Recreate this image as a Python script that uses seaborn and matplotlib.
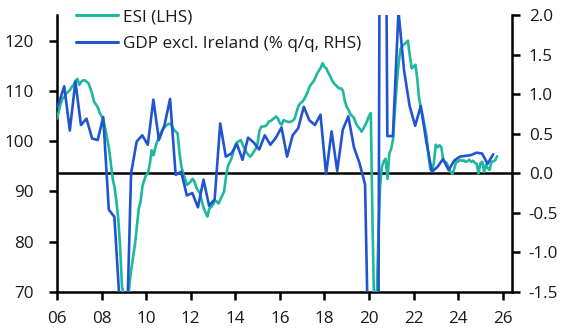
import numpy as np
import pandas as pd
import matplotlib
matplotlib.use("Agg")
import matplotlib.pyplot as plt
import matplotlib.transforms as mtransforms
from matplotlib.lines import Line2D
import seaborn as sns

# ---------------- data ----------------
# ESI (LHS), monthly, Jan 2006 - Oct 2025
esi_2006 = [104.5, 106.0, 107.5, 108.5, 108.8, 109.5, 109.8, 110.2, 110.8, 111.2, 112.0, 112.4]
esi_2007 = [111.2, 111.8, 112.1, 112.1, 111.8, 111.5, 110.5, 109.3, 107.8, 107.3, 106.7, 105.6]
esi_2008 = [105.0, 104.2, 102.5, 100.5, 98.6, 95.5, 92.5, 90.8, 88.0, 84.5, 79.0, 71.0]
esi_2009 = [69.5, 66.0, 67.5, 71.5, 74.5, 77.0, 79.5, 83.0, 86.5, 88.0, 91.0, 92.3]
esi_2010 = [93.3, 93.6, 95.5, 98.2, 97.2, 98.8, 100.0, 101.0, 101.7, 102.4, 102.8, 103.2]
esi_2011 = [103.4, 103.5, 103.0, 102.2, 101.9, 101.5, 97.5, 95.0, 93.4, 92.5, 91.3, 91.6]
esi_2012 = [92.0, 92.5, 92.0, 90.8, 90.2, 89.7, 88.0, 86.7, 85.8, 85.0, 86.6, 86.9]
esi_2013 = [87.4, 88.2, 88.0, 87.6, 88.4, 89.2, 90.0, 92.9, 95.0, 95.8, 96.6, 98.0]
esi_2014 = [99.2, 99.8, 100.0, 100.2, 99.3, 98.5, 97.8, 97.3, 96.9, 97.3, 97.9, 98.5]
esi_2015 = [99.5, 102.0, 102.9, 102.9, 103.0, 103.2, 103.9, 104.0, 104.3, 104.6, 104.9, 104.5]
esi_2016 = [103.6, 103.3, 104.2, 104.0, 103.9, 103.8, 103.9, 104.1, 104.5, 105.8, 107.0, 107.5]
esi_2017 = [107.8, 108.3, 109.0, 109.8, 110.8, 111.4, 111.8, 112.5, 113.4, 114.0, 114.6, 115.5]
esi_2018 = [114.8, 114.5, 113.7, 113.0, 112.2, 111.6, 111.2, 110.8, 110.5, 110.5, 110.0, 108.0]
esi_2019 = [106.8, 106.2, 105.4, 105.0, 104.6, 103.5, 102.9, 102.5, 101.9, 102.5, 103.2, 104.0]
esi_2020 = [105.0, 105.6, 82.0, 63.0, 66.0, 80.0, 91.0, 95.0, 96.0, 96.5, 92.5, 97.6]
esi_2021 = [98.5, 100.5, 106.5, 111.5, 115.5, 118.3, 119.0, 119.3, 119.6, 120.0, 117.0, 114.5]
esi_2022 = [114.8, 115.2, 112.5, 108.5, 106.5, 105.0, 103.0, 101.0, 97.5, 94.5, 94.0, 95.8]
esi_2023 = [99.3, 98.8, 99.2, 98.8, 96.2, 95.9, 95.6, 94.6, 93.9, 93.5, 94.6, 96.0]
esi_2024 = [95.9, 96.3, 96.1, 96.2, 95.9, 96.0, 96.3, 95.9, 96.1, 95.7, 95.5, 93.6]
esi_2025 = [95.6, 95.9, 93.9, 95.3, 94.6, 94.3, 95.9, 96.0, 96.2, 97.0]

# GDP excl. Ireland (% q/q, RHS), quarterly, 2005Q4 - 2025Q3
gdp_2005 = [0.75]
gdp_2006 = [0.88, 1.10, 0.54, 1.16]
gdp_2007 = [0.61, 0.69, 0.44, 0.42]
gdp_2008 = [0.71, -0.46, -0.55, -1.70]
gdp_2009 = [-2.60, 0.00, 0.40, 0.48]
gdp_2010 = [0.36, 0.93, 0.42, 0.61]
gdp_2011 = [0.94, -0.02, 0.02, -0.28]
gdp_2012 = [-0.25, -0.43, -0.08, -0.41]
gdp_2013 = [-0.33, 0.63, 0.21, 0.25]
gdp_2014 = [0.37, 0.17, 0.45, 0.39]
gdp_2015 = [0.30, 0.48, 0.36, 0.45]
gdp_2016 = [0.58, 0.21, 0.48, 0.57]
gdp_2017 = [0.84, 0.67, 0.61, 0.74]
gdp_2018 = [-0.01, 0.53, 0.03, 0.55]
gdp_2019 = [0.72, 0.33, 0.13, -0.14]
gdp_2020 = [-3.70, -11.50, 12.00, 0.47]
gdp_2021 = [0.47, 2.05, 1.30, 0.85]
gdp_2022 = [0.60, 0.85, 0.40, 0.02]
gdp_2023 = [0.08, 0.18, 0.04, 0.16]
gdp_2024 = [0.21, 0.22, 0.23, 0.26]
gdp_2025 = [0.25, 0.12, 0.24]

x_tick_years = list(range(2006, 2027, 2))
x_tick_labels = [f"{y % 100:02d}" for y in x_tick_years]
lhs_ticks = [70, 80, 90, 100, 110, 120]
rhs_ticks = [-1.5, -1.0, -0.5, 0.0, 0.5, 1.0, 1.5, 2.0]

esi_label = "ESI (LHS)"
gdp_label = "GDP excl. Ireland (% q/q, RHS)"

# ---------------- build frames ----------------
esi_vals = (esi_2006 + esi_2007 + esi_2008 + esi_2009 + esi_2010 + esi_2011 + esi_2012
            + esi_2013 + esi_2014 + esi_2015 + esi_2016 + esi_2017 + esi_2018 + esi_2019
            + esi_2020 + esi_2021 + esi_2022 + esi_2023 + esi_2024 + esi_2025)
esi_df = pd.DataFrame({"t": 2006 + np.arange(len(esi_vals)) / 12.0, "v": esi_vals})

gdp_vals = (gdp_2005 + gdp_2006 + gdp_2007 + gdp_2008 + gdp_2009 + gdp_2010 + gdp_2011
            + gdp_2012 + gdp_2013 + gdp_2014 + gdp_2015 + gdp_2016 + gdp_2017 + gdp_2018
            + gdp_2019 + gdp_2020 + gdp_2021 + gdp_2022 + gdp_2023 + gdp_2024 + gdp_2025)
gdp_df = pd.DataFrame({"t": 2005.75 + 0.075 + np.arange(len(gdp_vals)) * 0.25, "v": gdp_vals})

# ---------------- style ----------------
sns.set_style("white")
plt.rcParams["font.family"] = ["Open Sans", "DejaVu Sans"]
plt.rcParams["axes.unicode_minus"] = False

TEAL = "#1db89e"
BLUE = "#2155d0"
TXT = "#1a1a1a"
FS = 12.3

fig = plt.figure(figsize=(5.7, 3.31), dpi=100)
ax = fig.add_axes([57 / 570, 39 / 331, 455 / 570, 277 / 331])
ax2 = ax.twinx()

ax.set_xlim(2006.0, 2026.42)
ax.set_ylim(70, 125.1)
ax2.set_ylim(-1.5, 2.0)

# zero line of RHS, drawn beneath the series
trans = mtransforms.blended_transform_factory(ax.transAxes, ax2.transData)
ax.plot([0, 1], [0, 0], transform=trans, color="black", lw=1.8, zorder=1, solid_capstyle="butt")

sns.lineplot(data=esi_df, x="t", y="v", ax=ax, color=TEAL, lw=1.9, zorder=3, legend=False)
sns.lineplot(data=gdp_df, x="t", y="v", ax=ax2, color=BLUE, lw=1.9, zorder=3, legend=False)

ax.set_xlabel("")
ax.set_ylabel("")
ax2.set_ylabel("")

ax.set_xticks(x_tick_years)
ax.set_xticklabels(x_tick_labels)
ax.set_yticks(lhs_ticks)
ax.set_yticklabels([str(v) for v in lhs_ticks])
ax2.set_yticks(rhs_ticks)
ax2.set_yticklabels([f"{v:.1f}" for v in rhs_ticks])

for a in (ax, ax2):
    for s in a.spines.values():
        s.set_visible(False)
ax.spines["left"].set_visible(True)
ax.spines["bottom"].set_visible(True)
ax2.spines["right"].set_visible(True)
for s in (ax.spines["left"], ax.spines["bottom"], ax2.spines["right"]):
    s.set_color("black")
    s.set_linewidth(1.8)

ax.tick_params(axis="y", left=True, direction="out", length=6, width=1.8, pad=11,
               labelsize=FS, labelcolor=TXT, color="black")
ax.tick_params(axis="x", bottom=True, direction="out", length=6, width=1.8, pad=8,
               labelsize=FS, labelcolor=TXT, color="black")
ax2.tick_params(axis="y", right=True, direction="out", length=6, width=1.8, pad=6,
                labelsize=FS, labelcolor=TXT, color="black")
ax.grid(False)
ax2.grid(False)

handles = [Line2D([], [], color=TEAL, lw=2.2), Line2D([], [], color=BLUE, lw=2.2)]
fig.legend(handles, [esi_label, gdp_label], loc="upper left",
           bbox_to_anchor=(76 / 570, 1 - 9 / 331), frameon=False, fontsize=FS,
           handlelength=2.45, handletextpad=0.3, labelspacing=0.65,
           borderpad=0.0, borderaxespad=0.0, labelcolor=TXT)

fig.savefig("out.png", dpi=100)
